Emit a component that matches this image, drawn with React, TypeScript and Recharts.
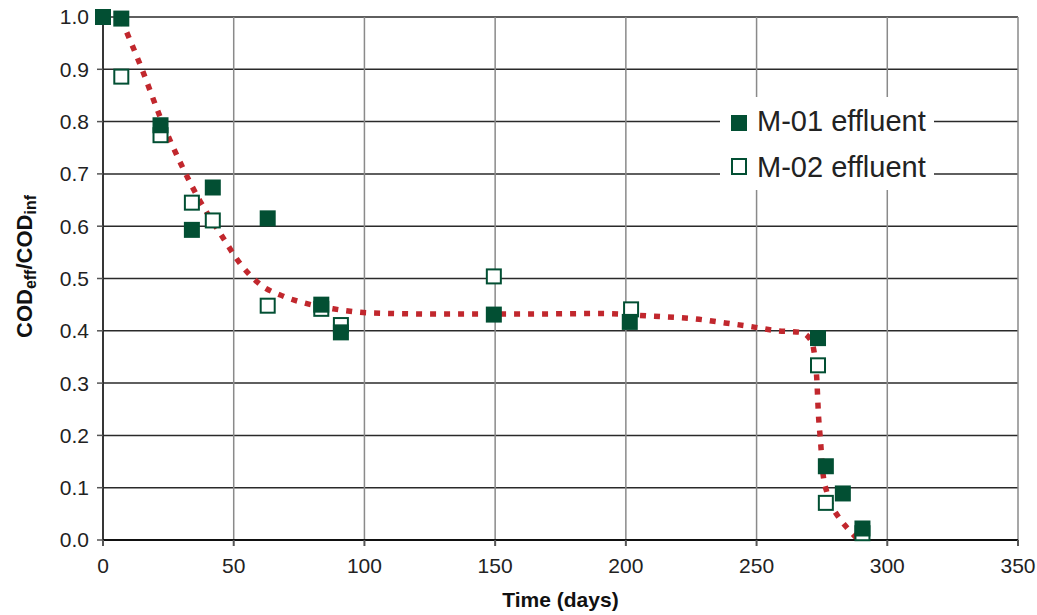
import React from 'react';
import { ComposedChart, Scatter, Line, XAxis, YAxis, CartesianGrid, Label } from 'recharts';

const m01X = [0, 7, 22, 34, 42, 63, 83.5, 91, 149.5, 201.5, 273.5, 276.5, 283, 290.5];
const m01Y = [1.0, 0.997, 0.793, 0.593, 0.674, 0.615, 0.45, 0.397, 0.431, 0.417, 0.386, 0.141, 0.089, 0.022];
const m02X = [7, 22, 34, 42, 63, 83.5, 91, 149.5, 202, 273.5, 276.5, 290.5];
const m02Y = [0.886, 0.774, 0.645, 0.611, 0.448, 0.442, 0.411, 0.504, 0.441, 0.334, 0.071, 0.013];
const trendX = [7, 15, 22, 30, 37, 45, 53, 60, 69, 78, 88, 103, 130, 160, 190, 210, 228, 238, 248, 258, 267, 270.5, 272, 273, 273.7, 274.5, 275.2, 277, 279, 281.5, 284.5, 289];
const trendY = [0.995, 0.899, 0.807, 0.717, 0.649, 0.585, 0.525, 0.489, 0.466, 0.452, 0.442, 0.434, 0.432, 0.432, 0.433, 0.428, 0.422, 0.415, 0.408, 0.4, 0.397, 0.384, 0.36, 0.311, 0.237, 0.187, 0.137, 0.089, 0.063, 0.043, 0.024, 0.0];
const xTicks = [0, 50, 100, 150, 200, 250, 300, 350];
const yTicks = [0, 0.1, 0.2, 0.3, 0.4, 0.5, 0.6, 0.7, 0.8, 0.9, 1.0];
const seriesNames = ['M-01 effluent', 'M-02 effluent'];

const m01 = m01X.map((x, i) => ({ x, y: m01Y[i] }));
const m02 = m02X.map((x, i) => ({ x, y: m02Y[i] }));
const trend = trendX.map((x, i) => ({ x, y: trendY[i] }));

const GREEN = '#024f33';
const RED = '#c1272d';
const FONT = '"Liberation Sans", Arial, sans-serif';

const FilledSquare = (p: any) => (
  <rect x={p.cx - 8} y={p.cy - 8} width={16} height={16} fill={GREEN} />
);
const OpenSquare = (p: any) => (
  <rect x={p.cx - 7} y={p.cy - 7} width={14} height={14} fill="#fff" stroke={GREEN} strokeWidth={2} />
);

const YLabel = (props: any) => {
  const vb = props.viewBox || {};
  const cx = 24;
  const cy = vb.y + vb.height / 2 - 12;
  return (
    <text
      transform={`translate(${cx},${cy}) rotate(-90)`}
      textAnchor="middle"
      fontFamily={FONT}
      fontWeight="bold"
      fontSize={22}
      fill="#111"
      dominantBaseline="central"
    >
      COD<tspan fontSize={16} dy={6}>eff</tspan>
      <tspan dy={-6}>/COD</tspan>
      <tspan fontSize={16} dy={6}>inf</tspan>
    </text>
  );
};

export default function App() {
  return (
    <div style={{ position: 'absolute', left: 0, top: 0, width: 1037, height: 615, background: '#fff' }}>
      <ComposedChart
        width={1037}
        height={615}
        margin={{ top: 17, right: 19, bottom: 0, left: 0 }}
      >
        <CartesianGrid vertical={false} stroke="#2a2a2a" strokeWidth={1.5} />
        <CartesianGrid horizontal={false} stroke="#8a8a8a" strokeWidth={1.5} />
        <XAxis
          type="number"
          dataKey="x"
          domain={[0, 350]}
          ticks={xTicks}
          height={75}
          stroke="#111"
          strokeWidth={2}
          tickSize={6}
          tick={{ fontFamily: FONT, fontSize: 21, fill: '#222', dy: 10 }}
          tickLine={{ stroke: '#555' }}
        >
          <Label
            value="Time (days)"
            position="insideBottom"
            offset={8}
            style={{ fontFamily: FONT, fontWeight: 'bold', fontSize: 21, fill: '#111' }}
          />
        </XAxis>
        <YAxis
          type="number"
          dataKey="y"
          domain={[0, 1]}
          ticks={yTicks}
          width={103}
          stroke="#111"
          strokeWidth={1.5}
          tickSize={6}
          tickFormatter={(v: number) => v.toFixed(1)}
          tick={{ fontFamily: FONT, fontSize: 21, fill: '#222', dx: -6 }}
          tickLine={{ stroke: '#555' }}
        >
          <Label content={<YLabel />} />
        </YAxis>
        <Scatter name={seriesNames[1]} data={m02} shape={<OpenSquare />} isAnimationActive={false} />
        <Scatter name={seriesNames[0]} data={m01} shape={<FilledSquare />} isAnimationActive={false} />
        <Line
          data={trend}
          dataKey="y"
          type="monotone"
          stroke={RED}
          strokeWidth={5.5}
          strokeDasharray="6 8"
          dot={false}
          activeDot={false}
          isAnimationActive={false}
        />
      </ComposedChart>
      <div
        style={{
          position: 'absolute',
          left: 720,
          top: 97,
          width: 214,
          height: 93,
          background: '#fff',
          fontFamily: FONT,
          fontSize: 29,
          color: '#222',
        }}
      >
        <div style={{ position: 'absolute', left: 11, top: 18, width: 16, height: 16, background: GREEN }} />
        <div style={{ position: 'absolute', left: 37, top: 9, lineHeight: '30px', whiteSpace: 'nowrap' }}>{seriesNames[0]}</div>
        <div style={{ position: 'absolute', left: 11, top: 61, width: 12, height: 13, border: `2px solid ${GREEN}`, background: '#fff' }} />
        <div style={{ position: 'absolute', left: 37, top: 55, lineHeight: '30px', whiteSpace: 'nowrap' }}>{seriesNames[1]}</div>
      </div>
    </div>
  );
}
